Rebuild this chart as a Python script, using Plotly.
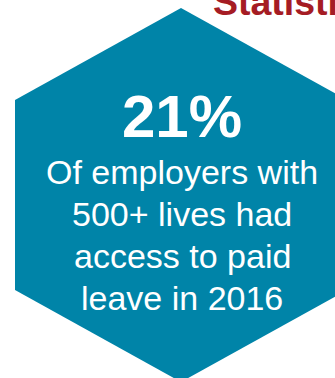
import plotly.graph_objects as go

# Headline figure and caption lines
stat_value = "21%"
caption_lines = ["Of employers with", "500+ lives had", "access to paid", "leave in 2016"]
section_title = "Statistics"

W, H = 335, 378
TEAL = "#0084A8"
RED = "#A51C24"

# Pointy-top hexagon geometry (pixel space)
cx, cy = 181, 195
half_w, half_h, tip = 166, 187, 92
hex_x = [cx, cx - half_w, cx - half_w, cx, cx + half_w, cx + half_w, cx]
hex_y = [cy - half_h, cy - half_h + tip, cy + half_h - tip, cy + half_h,
         cy + half_h - tip, cy - half_h + tip, cy - half_h]

fig = go.Figure()
fig.add_trace(go.Scatter(
    x=hex_x, y=hex_y, mode="lines", fill="toself",
    fillcolor=TEAL, line=dict(width=0, color=TEAL),
    hoverinfo="skip", showlegend=False,
))

FONT = "Liberation Sans, Arial, sans-serif"
annotations = []

# Big percentage
annotations.append(dict(
    x=182, y=116, xref="x", yref="y", text=f"<b>{stat_value}</b>",
    showarrow=False, xanchor="center", yanchor="middle",
    font=dict(family=FONT, size=60, color="white"),
))

# Caption, one line per annotation
line_centers = [172, 214, 256, 298]
for txt, yc in zip(caption_lines, line_centers):
    annotations.append(dict(
        x=182, y=yc, xref="x", yref="y", text=txt,
        showarrow=False, xanchor="center", yanchor="middle",
        font=dict(family=FONT, size=34, color="white"),
    ))

# Section heading, partly outside the frame
annotations.append(dict(
    x=211, y=1.5, xref="x", yref="y", text=f"<b>{section_title}</b>",
    showarrow=False, xanchor="left", yanchor="middle",
    font=dict(family=FONT, size=37.5, color=RED),
))

fig.update_layout(
    width=W, height=H,
    margin=dict(l=0, r=0, t=0, b=0),
    paper_bgcolor="white", plot_bgcolor="white",
    xaxis=dict(range=[0, W], visible=False, fixedrange=True),
    yaxis=dict(range=[H, 0], visible=False, fixedrange=True),
    annotations=annotations,
    showlegend=False,
)

fig.write_html("out.html", config={"displayModeBar": False})
